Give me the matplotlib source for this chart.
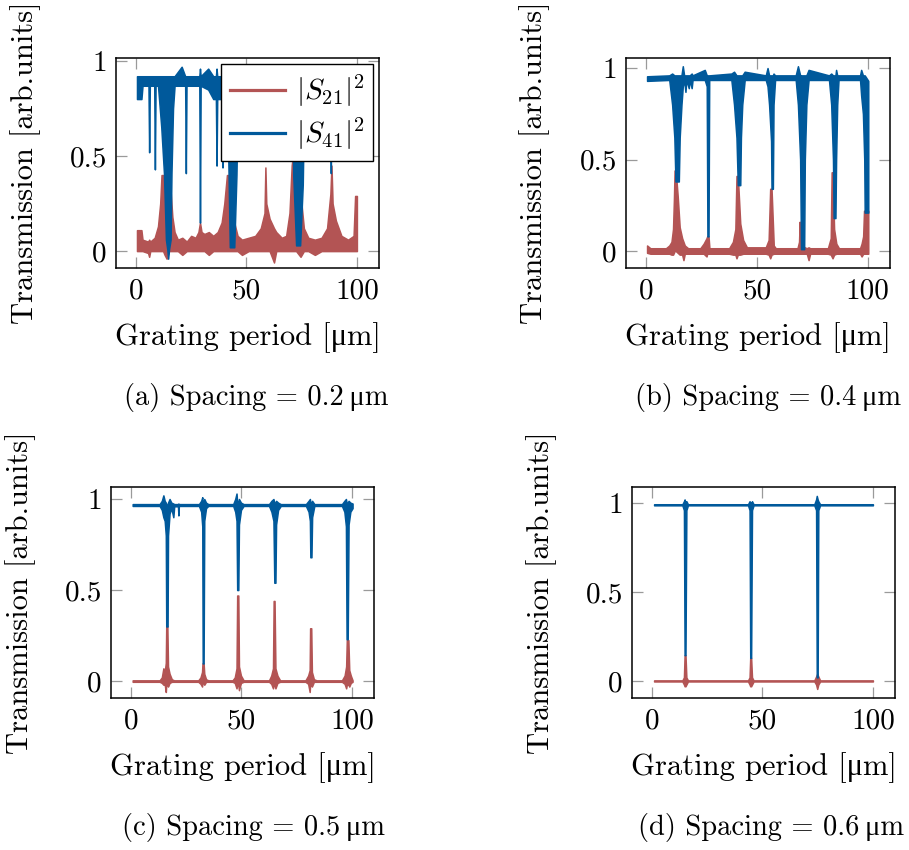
import numpy as np
import matplotlib.pyplot as plt
from matplotlib.lines import Line2D

plt.rcParams['font.family'] = ['cmr10', 'Liberation Serif', 'DejaVu Serif']
plt.rcParams['mathtext.fontset'] = 'cm'
plt.rcParams['axes.unicode_minus'] = False
plt.rcParams['font.size'] = 21

RED = '#b35454'
BLUE = '#00599b'
MU = '\u03bc'

# each row: (grating period, lower envelope, upper envelope) of the noisy trace

# (a) spacing 0.2 um
S21_A = [
    (0.5, 0.0, 0.11), (2.5, 0.0, 0.11), (3.0, 0.0, 0.06), (5.5, -0.01, 0.05),
    (6.0, -0.03, 0.06), (6.5, 0.0, 0.05), (8.5, 0.0, 0.07), (10.0, 0.0, 0.13),
    (11.0, 0.0, 0.25), (11.6, 0.0, 0.40), (12.3, 0.0, 0.40), (13.0, -0.02, 0.35),
    (13.9, -0.04, 0.40), (15.0, 0.0, 0.38), (15.8, 0.0, 0.30), (16.5, 0.0, 0.18),
    (17.5, 0.0, 0.10), (19.0, 0.0, 0.06), (21.0, -0.02, 0.07), (23.0, 0.0, 0.05),
    (25.0, 0.0, 0.08), (27.0, 0.0, 0.07), (28.3, 0.0, 0.10), (29.0, 0.0, 0.15),
    (29.7, 0.0, 0.10), (31.0, 0.0, 0.09), (33.0, -0.02, 0.10), (35.0, 0.0, 0.08),
    (37.0, 0.0, 0.10), (38.8, 0.0, 0.15), (40.0, 0.0, 0.25), (41.2, 0.0, 0.40),
    (42.0, 0.0, 0.40), (43.0, 0.0, 0.30), (44.5, 0.0, 0.15), (46.0, 0.0, 0.08),
    (48.0, -0.02, 0.06), (51.0, 0.0, 0.07), (54.0, 0.0, 0.08), (56.5, 0.0, 0.12),
    (58.2, 0.0, 0.20), (58.6, 0.0, 0.44), (59.0, 0.0, 0.25), (60.5, 0.0, 0.17),
    (62.5, -0.06, 0.12), (63.5, 0.0, 0.10), (66.0, 0.0, 0.07), (68.0, 0.0, 0.08),
    (69.5, 0.0, 0.20), (70.5, 0.0, 0.45), (71.0, 0.0, 0.50), (72.5, 0.0, 0.40),
    (74.5, -0.03, 0.30), (76.0, 0.0, 0.12), (78.0, 0.0, 0.07), (81.0, -0.02, 0.06),
    (84.0, 0.0, 0.07), (86.5, 0.0, 0.12), (88.0, 0.0, 0.30), (88.5, 0.0, 0.45),
    (89.0, 0.0, 0.25), (90.5, 0.0, 0.16), (93.0, 0.0, 0.08), (96.0, 0.0, 0.06),
    (98.5, 0.0, 0.08), (99.2, 0.0, 0.29), (100.0, 0.0, 0.29),
]
S41_A = [
    (0.5, 0.80, 0.92), (2.5, 0.80, 0.92), (3.0, 0.87, 0.92), (5.7, 0.87, 0.92),
    (6.0, 0.52, 0.92), (6.3, 0.87, 0.92), (8.3, 0.87, 0.92), (8.6, 0.43, 0.92),
    (8.9, 0.87, 0.92), (10.0, 0.87, 0.92), (11.5, 0.65, 0.92), (12.7, 0.41, 0.92),
    (13.6, 0.06, 0.92), (14.2, 0.01, 0.92), (14.6, -0.04, 0.92), (15.0, 0.01, 0.92),
    (15.7, 0.06, 0.92), (16.1, 0.41, 0.92), (16.8, 0.75, 0.92), (17.5, 0.87, 0.92),
    (20.7, 0.87, 0.97), (22.3, 0.87, 0.92), (22.6, 0.41, 0.92), (22.9, 0.87, 0.92),
    (28.7, 0.87, 0.92), (29.0, 0.15, 0.96), (29.3, 0.87, 0.92), (32.7, 0.85, 0.96),
    (35.0, 0.80, 0.92), (36.2, 0.80, 0.92), (36.5, 0.45, 0.96), (36.8, 0.80, 0.92),
    (38.9, 0.80, 0.92), (39.2, 0.44, 0.92), (39.5, 0.80, 0.92), (41.3, 0.80, 0.92),
    (41.8, 0.50, 0.92), (42.5, 0.02, 0.92), (44.5, 0.02, 0.92), (45.5, 0.40, 0.92),
    (46.2, 0.87, 0.92), (58.4, 0.87, 0.92), (58.7, 0.48, 0.92), (59.0, 0.87, 0.92),
    (70.6, 0.87, 0.92), (71.2, 0.40, 0.92), (72.5, 0.03, 0.92), (74.3, 0.03, 0.92),
    (75.5, 0.35, 0.92), (76.2, 0.87, 0.92), (87.9, 0.87, 0.92), (88.2, 0.41, 0.92),
    (88.5, 0.87, 0.92), (100.0, 0.87, 0.92),
]

# (b) spacing 0.4 um
S21_B = [
    (0.5, -0.01, 0.03), (2.0, -0.015, 0.015), (9.0, -0.015, 0.015), (10.5, -0.015, 0.03),
    (11.5, -0.02, 0.05), (12.2, -0.02, 0.12), (12.6, -0.01, 0.28), (12.9, 0.0, 0.44),
    (13.4, 0.0, 0.44), (14.3, -0.01, 0.30), (15.2, -0.02, 0.13), (16.3, -0.02, 0.07),
    (16.9, -0.05, 0.05), (17.5, -0.015, 0.03), (19.0, -0.015, 0.015), (24.5, -0.015, 0.015),
    (26.0, -0.015, 0.04), (27.3, -0.03, 0.07), (27.6, -0.015, 0.08), (28.2, -0.015, 0.08),
    (28.6, -0.015, 0.015), (37.5, -0.015, 0.015), (39.2, -0.02, 0.05), (40.3, -0.02, 0.12),
    (40.8, -0.04, 0.41), (41.4, -0.02, 0.41), (42.5, -0.02, 0.15), (43.8, -0.015, 0.06),
    (45.5, -0.015, 0.02), (54.0, -0.015, 0.02), (55.3, -0.02, 0.06), (56.0, -0.04, 0.34),
    (56.6, -0.02, 0.34), (57.6, -0.015, 0.03), (58.5, -0.015, 0.015), (68.3, -0.015, 0.015),
    (69.0, -0.015, 0.05), (69.3, -0.015, 0.16), (69.6, -0.015, 0.03), (72.5, -0.015, 0.015),
    (73.3, -0.05, 0.02), (74.0, -0.015, 0.015), (82.0, -0.015, 0.015), (83.3, -0.02, 0.07),
    (83.7, -0.03, 0.43), (84.1, -0.04, 0.43), (84.8, -0.02, 0.12), (85.8, -0.015, 0.04),
    (87.0, -0.015, 0.015), (96.5, -0.015, 0.015), (97.2, -0.03, 0.04), (97.9, -0.015, 0.08),
    (98.3, -0.015, 0.22), (100.2, -0.015, 0.22),
]
S41_B = [
    (0.5, 0.93, 0.955), (10.5, 0.935, 0.96), (11.8, 0.80, 0.97), (12.8, 0.62, 0.96),
    (13.3, 0.38, 0.96), (14.8, 0.38, 0.96), (15.2, 0.62, 0.96), (16.0, 0.80, 0.96),
    (16.6, 0.90, 1.01), (17.2, 0.935, 0.96), (17.8, 0.87, 0.96), (18.2, 0.935, 0.96),
    (19.3, 0.89, 0.96), (19.7, 0.935, 0.96), (20.6, 0.89, 0.97), (21.0, 0.935, 0.96),
    (26.5, 0.935, 0.99), (27.4, 0.90, 0.96), (27.7, 0.08, 0.96), (28.2, 0.08, 0.96),
    (28.5, 0.935, 0.96), (38.5, 0.935, 0.97), (39.7, 0.80, 0.98), (40.8, 0.62, 0.96),
    (41.4, 0.36, 0.96), (42.5, 0.36, 0.96), (42.8, 0.62, 0.96), (43.4, 0.80, 0.96),
    (44.5, 0.935, 0.98), (54.0, 0.935, 0.96), (54.8, 0.90, 1.00), (55.5, 0.80, 0.96),
    (56.4, 0.60, 0.96), (56.6, 0.34, 0.96), (57.2, 0.34, 0.96), (57.5, 0.80, 0.97),
    (58.2, 0.935, 0.96), (67.5, 0.935, 0.96), (68.5, 0.80, 1.01), (69.5, 0.50, 0.96),
    (69.9, 0.01, 0.96), (71.3, 0.01, 0.96), (71.6, 0.50, 0.96), (72.3, 0.80, 0.96),
    (73.3, 0.935, 0.99), (82.5, 0.935, 0.96), (83.5, 0.80, 0.97), (84.3, 0.50, 0.96),
    (84.6, 0.18, 0.96), (85.4, 0.18, 0.96), (85.7, 0.50, 0.99), (86.2, 0.80, 0.96),
    (86.8, 0.935, 0.96), (96.5, 0.935, 0.96), (97.0, 0.85, 0.99), (97.8, 0.75, 0.96),
    (98.4, 0.50, 0.96), (98.6, 0.21, 0.96), (100.2, 0.21, 0.93),
]

# (c) spacing 0.5 um
S21_C = [
    (0.8, -0.004, 0.004), (13.0, -0.004, 0.004), (14.0, -0.01, 0.02), (14.7, -0.02, 0.07),
    (15.2, -0.01, 0.04), (15.8, -0.06, 0.10), (16.0, -0.02, 0.30), (16.5, -0.02, 0.30),
    (16.8, -0.03, 0.08), (17.5, -0.01, 0.04), (18.5, -0.004, 0.01), (19.5, -0.004, 0.004),
    (30.5, -0.004, 0.004), (31.5, -0.015, 0.02), (32.2, -0.03, 0.05), (32.4, -0.01, 0.097),
    (32.9, -0.01, 0.097), (33.2, -0.02, 0.04), (34.0, -0.004, 0.01), (35.0, -0.004, 0.004),
    (46.0, -0.004, 0.004), (47.0, -0.01, 0.02), (47.8, -0.04, 0.07), (48.1, -0.02, 0.47),
    (48.6, -0.02, 0.47), (48.9, -0.05, 0.08), (49.8, -0.01, 0.03), (51.0, -0.004, 0.004),
    (62.5, -0.004, 0.004), (63.5, -0.015, 0.03), (64.3, -0.04, 0.07), (64.6, -0.02, 0.44),
    (65.0, -0.02, 0.44), (65.4, -0.04, 0.07), (66.3, -0.01, 0.03), (67.5, -0.004, 0.004),
    (79.0, -0.004, 0.004), (80.2, -0.015, 0.03), (80.9, -0.06, 0.06), (81.1, -0.02, 0.29),
    (81.6, -0.02, 0.29), (81.9, -0.03, 0.05), (82.8, -0.004, 0.01), (84.0, -0.004, 0.004),
    (95.5, -0.004, 0.004), (96.7, -0.015, 0.03), (97.4, -0.04, 0.08), (97.7, -0.02, 0.225),
    (98.4, -0.02, 0.225), (98.8, -0.03, 0.06), (99.5, -0.01, 0.03), (100.3, -0.004, 0.004),
]
S41_C = [
    (0.8, 0.962, 0.972), (13.0, 0.962, 0.972), (14.0, 0.94, 0.99), (14.7, 0.90, 1.02),
    (15.3, 0.88, 0.99), (15.8, 0.80, 0.98), (16.0, 0.30, 0.97), (16.6, 0.30, 0.97),
    (16.8, 0.80, 0.98), (17.5, 0.92, 1.00), (18.3, 0.95, 0.98), (19.2, 0.90, 0.975),
    (19.6, 0.96, 0.972), (21.3, 0.96, 0.972), (21.5, 0.91, 0.975), (21.7, 0.962, 0.972),
    (30.8, 0.962, 0.972), (31.8, 0.93, 0.99), (32.3, 0.85, 1.01), (32.5, 0.097, 0.98),
    (32.9, 0.097, 0.98), (33.2, 0.88, 1.00), (34.0, 0.95, 0.98), (35.0, 0.962, 0.972),
    (46.3, 0.962, 0.972), (47.2, 0.93, 1.00), (47.8, 0.88, 1.03), (48.1, 0.50, 0.98),
    (48.6, 0.50, 0.98), (48.9, 0.86, 1.00), (49.8, 0.94, 0.98), (51.0, 0.962, 0.972),
    (62.5, 0.962, 0.972), (63.6, 0.93, 0.99), (64.5, 0.88, 1.00), (64.9, 0.54, 0.98),
    (65.4, 0.54, 0.98), (65.7, 0.86, 0.99), (66.6, 0.94, 0.98), (67.8, 0.962, 0.972),
    (79.2, 0.962, 0.972), (80.4, 0.93, 0.99), (81.0, 0.88, 1.00), (81.2, 0.68, 0.98),
    (81.7, 0.68, 0.98), (82.0, 0.90, 0.99), (83.0, 0.962, 0.972), (95.5, 0.962, 0.972),
    (96.6, 0.93, 0.99), (97.3, 0.85, 1.00), (97.6, 0.23, 0.98), (98.1, 0.23, 0.98),
    (98.5, 0.86, 0.99), (99.3, 0.93, 0.98), (100.3, 0.95, 0.975),
]

# (d) spacing 0.6 um
S21_D = [
    (1.0, -0.003, 0.003), (13.8, -0.003, 0.003), (14.5, -0.02, 0.02), (14.8, -0.03, 0.145),
    (15.2, -0.03, 0.145), (15.6, -0.02, 0.02), (16.3, -0.003, 0.003), (43.5, -0.003, 0.003),
    (44.2, -0.02, 0.02), (44.5, -0.03, 0.13), (44.9, -0.03, 0.13), (45.3, -0.02, 0.02),
    (46.0, -0.003, 0.003), (73.5, -0.003, 0.003), (74.3, -0.02, 0.025), (74.8, -0.045, 0.04),
    (75.3, -0.02, 0.025), (76.1, -0.003, 0.003), (100.0, -0.003, 0.003),
]
S41_D = [
    (1.0, 0.987, 0.993), (13.8, 0.987, 0.993), (14.5, 0.96, 1.01), (14.8, 0.145, 1.02),
    (15.2, 0.145, 1.00), (15.6, 0.96, 1.01), (16.3, 0.987, 0.993), (43.5, 0.987, 0.993),
    (44.2, 0.96, 1.01), (44.5, 0.13, 1.00), (44.9, 0.13, 1.00), (45.3, 0.96, 1.01),
    (46.0, 0.987, 0.993), (73.5, 0.987, 0.993), (74.3, 0.96, 1.02), (74.6, 0.02, 1.04),
    (75.0, 0.02, 1.02), (75.3, 0.96, 1.01), (76.1, 0.987, 0.993), (100.0, 0.987, 0.993),
]

SPACINGS = ['0.2', '0.4', '0.5', '0.6']
LETTERS = ['a', 'b', 'c', 'd']


def draw_panel(ax, s21, s41, ylim):
    for data, color in ((s21, RED), (s41, BLUE)):
        x, lo, hi = np.array(data).T
        ax.fill_between(x, lo, hi, facecolor=color, edgecolor=color, lw=1.1)

    ax.set_xlim(-9, 110)
    ax.set_ylim(*ylim)
    ax.set_xticks([0, 50, 100])
    ax.set_xticklabels(['0', '50', '100'])
    ax.set_yticks([0, 0.5, 1])
    ax.set_yticklabels(['0', '0.5', '1'])
    ax.tick_params(direction='in', length=8, width=0.9, color='#9a9a9a',
                   top=True, right=True, labelsize=21)
    ax.tick_params(axis='y', pad=6.5)
    ax.tick_params(axis='x', pad=7)
    for sp in ax.spines.values():
        sp.set_linewidth(1.1)

    ax.set_xlabel(f'Grating period [{MU}m]', va='center', fontsize=22)
    ax.set_ylabel('Transmission [arb.units]', va='center', fontsize=22)
    ax.xaxis.set_label_coords(0.5, -0.33)
    ax.yaxis.set_label_coords(-0.345, 0.5)


fig = plt.figure(figsize=(9.09, 8.5), dpi=100)
W, H = 909, 850
boxes = [(116, 58, 379, 268), (626, 58, 890, 268),
         (111, 487, 374, 698), (632, 487, 895, 698)]
ylims = [(-0.089, 1.016), (-0.093, 1.055), (-0.093, 1.066), (-0.096, 1.09)]
caption_pos = [(256, 398), (768, 398), (253, 828), (771, 828)]
series = [(S21_A, S41_A), (S21_B, S41_B), (S21_C, S41_C), (S21_D, S41_D)]

axes = []
for (l, t, r, b), ylim, (s21, s41) in zip(boxes, ylims, series):
    ax = fig.add_axes([l / W, (H - b) / H, (r - l) / W, (b - t) / H])
    draw_panel(ax, s21, s41, ylim)
    axes.append(ax)

handles = [Line2D([], [], color=RED, lw=2.3), Line2D([], [], color=BLUE, lw=2.3)]
leg = axes[0].legend(handles, [r'$|S_{21}|^2$', r'$|S_{41}|^2$'], loc='upper right',
                     fontsize=21, borderaxespad=0.2, handlelength=1.9,
                     handletextpad=0.35, fancybox=False, framealpha=1,
                     edgecolor='black', borderpad=0.3, labelspacing=0.25)
leg.get_frame().set_linewidth(1.0)

for (cx, cy), letter, sp in zip(caption_pos, LETTERS, SPACINGS):
    fig.text(cx / W, (H - cy) / H, f'({letter}) Spacing = {sp}\u2009{MU}m',
             ha='center', va='center', fontsize=20.5)

fig.savefig('out.png', dpi=100)
